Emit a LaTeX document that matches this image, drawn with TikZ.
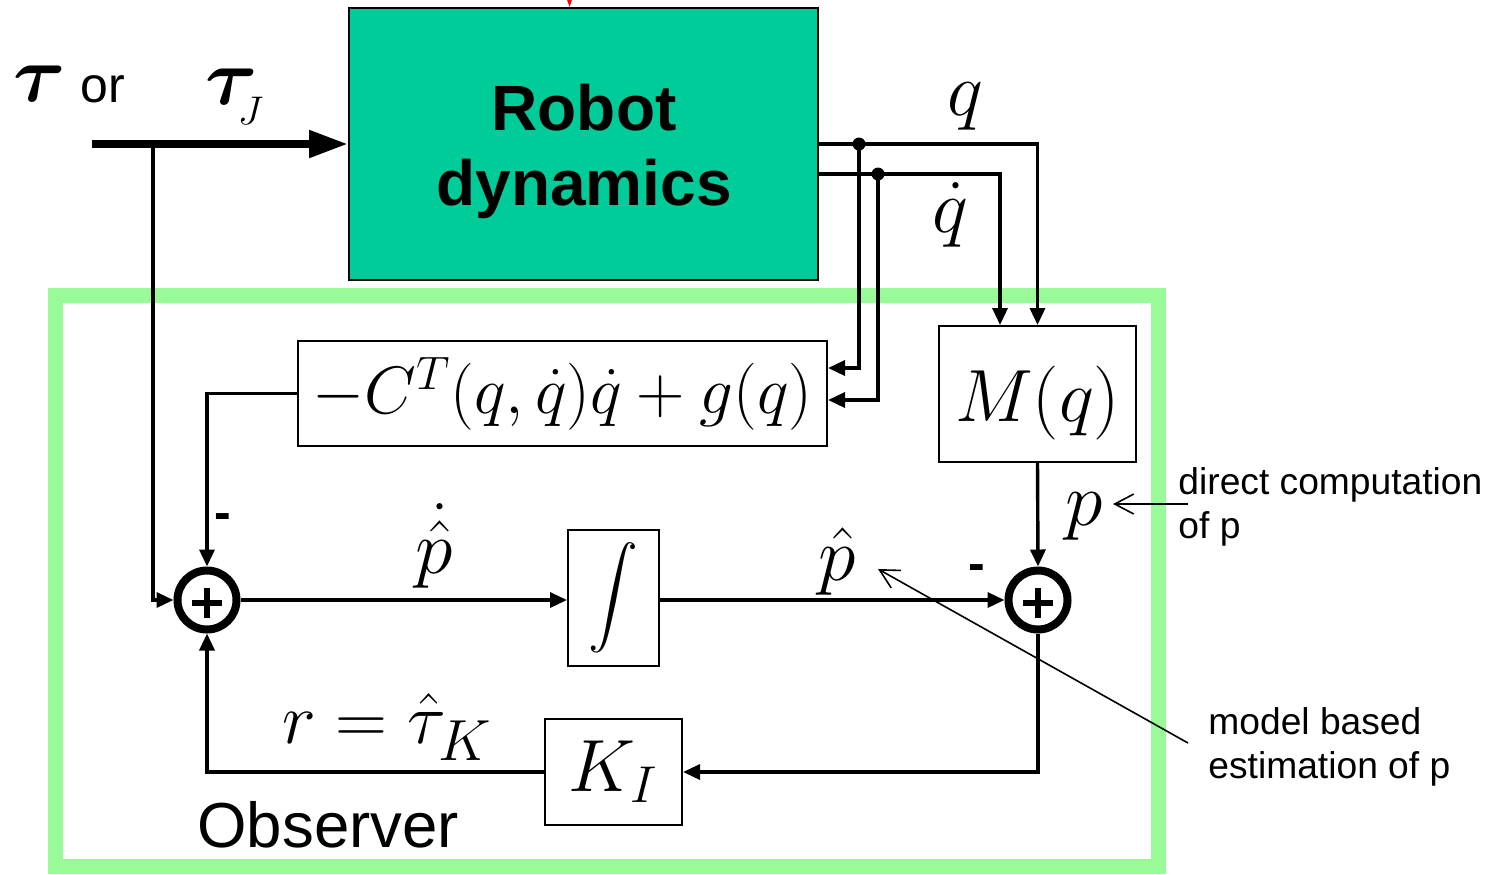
\RequirePackage{fix-cm}
\documentclass[tikz,border=0pt]{standalone}
\usepackage{amsmath}
\usepackage[no-math]{fontspec}
\setmainfont{Liberation Sans}
\usetikzlibrary{arrows.meta,calc}

\definecolor{robotfill}{RGB}{0,204,153}
\definecolor{obsgreen}{RGB}{152,251,152}

\tikzset{
  wire/.style={line width=1.7pt},
  sig/.style={wire,-{Triangle[length=8.5pt,width=7.5pt]}},
  bigsig/.style={line width=4pt,-{Triangle[length=19.5pt,width=13pt]}},
  blk/.style={draw,line width=1pt,inner sep=0pt},
  robotblk/.style={blk,fill=robotfill,minimum width=234.5pt,minimum height=136pt},
  robotlbl/.style={inner sep=0pt,align=center,font=\bfseries\fontsize{32}{37.5}\selectfont},
  sumjn/.style={circle,draw,line width=4pt,minimum size=29.5pt,inner sep=0pt},
  plusbar/.style={line width=3pt},
  junction/.style={circle,fill,inner sep=0pt,minimum size=6.5pt},
  lbl/.style={inner sep=0pt,font=\fontsize{38}{44}\selectfont},
  minuslbl/.style={inner sep=0pt,font=\bfseries\fontsize{25}{30}\selectfont},
  note/.style={inner sep=0pt,align=left,font=\fontsize{18.6}{22}\selectfont},
  notearrow/.style={line width=0.8pt,-{Straight Barb[length=9.5pt,width=10pt]}},
  obsframe/.style={draw=obsgreen,line width=7.5pt},
}

\begin{document}
\begin{tikzpicture}[x=0.5pt,y=-0.5pt]
\useasboundingbox (0,0) rectangle (1502,874);

% observer frame
\draw[obsframe] (55,295) rectangle (1158,866);

% plant
\node[robotblk] (robot) at (583.5,144) {};
\node[robotlbl] (robottxt) at (584,151) {Robot\\dynamics};
\draw[red,line width=1pt,-{Triangle[length=9pt,width=6pt]}]
  ([xshift=-7pt,yshift=20pt]robot.north) -- ([xshift=-7pt]robot.north);

% observer blocks
\node[blk,minimum width=264.5pt,minimum height=52.5pt] (cfun) at (562.5,393.5)
  {\fontsize{33.5}{40}\selectfont$-C^T(q,\dot q)\dot q+g(q)$};
\node[blk,minimum width=98.5pt,minimum height=68pt] (mq) at (1037.5,394)
  {\fontsize{37}{42}\selectfont\raisebox{-4.5pt}[\height][\depth]{$M(q)$}};
\node[blk,minimum width=45.5pt,minimum height=68pt] (integ) at (613.5,598)
  {\fontsize{28}{30}\selectfont$\displaystyle\int$};
\node[blk,minimum width=68.5pt,minimum height=53pt] (ki) at (613.5,772)
  {\fontsize{37}{40}\selectfont$K_I$};

% summing junctions
\node[sumjn] (s1) at (207,600) {};
\node[sumjn] (s2) at (1038,600) {};
\foreach \s in {s1,s2}{
  \draw[plusbar] ($(\s.center)+(-15,3)$) -- ($(\s.center)+(15,3)$);
  \draw[plusbar] ($(\s.center)+(0,-12)$) -- ($(\s.center)+(0,18)$);
}

% input torque
\coordinate (src) at (92,144);
\coordinate (br) at (153,144);
\draw[bigsig] (src) -- (robot.west);
\draw[sig] (br) |- (s1.west);

% measured outputs
\node[junction] (j1) at (859,144) {};
\node[junction] (j2) at (878,174) {};
\draw[sig] (robot.east) -| (mq.north);
\draw[sig] ([yshift=-15pt]robot.east) -| ([xshift=-18.75pt]mq.north);
\draw[sig] (j1.center) |- ([yshift=12.75pt]cfun.east);
\draw[sig] (j2.center) |- ([yshift=-3.25pt]cfun.east);

% observer loop
\draw[sig] (cfun.west) -| (s1.north);
\draw[sig] (mq.south) -- (s2.north);
\draw[sig] (s1.east) -- (integ.west |- s1.east);
\draw[sig] (integ.east |- s2.west) -- (s2.west);
\draw[sig] (s2.south) |- (ki.east);
\draw[sig] (ki.west) -| (s1.south);

% signal labels
\node[inner sep=0pt,font=\fontsize{40}{44}\selectfont] (tau1) at (40,84) {$\boldsymbol{\tau}$};
\node[inner sep=0pt,anchor=base west,font=\fontsize{25}{30}\selectfont] (orlbl) at (80,102) {or};
\node[inner sep=0pt,anchor=base west,font=\fontsize{40}{44}\selectfont] (tauj) at (205,104)
  {$\boldsymbol{\tau}_{\kern-10pt\lower4pt\hbox{$\scriptscriptstyle J$}}$};
\node[lbl] (qlbl) at (965,107) {$q$};
\node[lbl] (qdlbl) at (950,215) {$\dot q$};
\node[lbl] (plbl) at (1084,517) {$p$};
\node[lbl] (pdlbl) at (434,546) {$\dot{\hat p}$};
\node[lbl] (phlbl) at (837,561) {$\hat p$};
\node[inner sep=0pt,font=\fontsize{36}{40}\selectfont] (rlbl) at (387,727)
  {$r=\hat\tau_{\lower3pt\hbox{\fontsize{29}{30}\selectfont$K$}}$};
\node[minuslbl] (m1) at (223,522) {-};
\node[minuslbl] (m2) at (977,573) {-};
\node[inner sep=0pt,anchor=base west,font=\fontsize{31.8}{36}\selectfont] (obs) at (197,847) {Observer};

% annotations
\node[note,anchor=north west] (dctxt) at (1178,467) {direct computation\\of p};
\node[note,anchor=north west] (mbtxt) at (1208,707) {model based\\estimation of p};
\coordinate (dcend) at (1188,504);
\coordinate (dctip) at (1113,504);
\coordinate (mbend) at (1188,743);
\coordinate (mbtip) at (878,569);
\draw[notearrow] (dcend) -- (dctip);
\draw[notearrow] (mbend) -- (mbtip);
\end{tikzpicture}
\end{document}
